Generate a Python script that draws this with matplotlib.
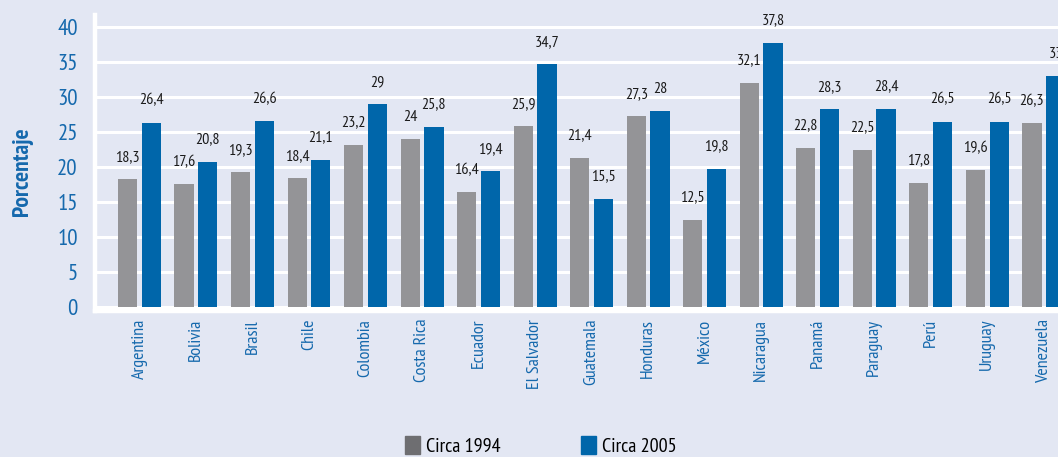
import numpy as np
import matplotlib.pyplot as plt
from matplotlib.patches import Patch

paises = ['Argentina', 'Bolivia', 'Brasil', 'Chile', 'Colombia', 'Costa Rica',
          'Ecuador', 'El Salvador', 'Guatemala', 'Honduras', 'México',
          'Nicaragua', 'Panamá', 'Paraguay', 'Perú', 'Uruguay', 'Venezuela']
circa_1994 = [18.3, 17.6, 19.3, 18.4, 23.2, 24, 16.4, 25.9, 21.4, 27.3,
              12.5, 32.1, 22.8, 22.5, 17.8, 19.6, 26.3]
circa_2005 = [26.4, 20.8, 26.6, 21.1, 29, 25.8, 19.4, 34.7, 15.5, 28,
              19.8, 37.8, 28.3, 28.4, 26.5, 26.5, 33]
yticks = [0, 5, 10, 15, 20, 25, 30, 35, 40]

bg = '#e3e7f3'
gris = '#949497'
azul = '#0066aa'
azul_txt = '#1569ad'

plt.rcParams['font.family'] = ['PT Sans Narrow', 'Open Sans Condensed', 'DejaVu Sans']

fig = plt.figure(figsize=(10.58, 4.57), dpi=100, facecolor=bg)
# axes extends past the right edge (the original is cropped)
ax = fig.add_axes([94.5 / 1058, 1 - 310.5 / 457, (1089 - 94.5) / 1058, (310.5 - 15) / 457])
ax.set_facecolor(bg)

x = np.arange(len(paises))
w = 0.34
b1 = ax.bar(x - 0.21, circa_1994, w, color=gris, zorder=3)
b2 = ax.bar(x + 0.21, circa_2005, w, color=azul, zorder=3)

def etiqueta(v):
    s = f'{v:.1f}'.replace('.', ',')
    return s[:-2] if s.endswith(',0') else s

for bars, vals in ((b1, circa_1994), (b2, circa_2005)):
    for r, v in zip(bars, vals):
        ax.annotate(etiqueta(v), (r.get_x() + r.get_width() / 2, v),
                    xytext=(0, 11), textcoords='offset points',
                    ha='center', va='bottom', fontsize=11.5, color='#1a1a1a',
                    annotation_clip=False)

ax.set_xlim(-0.795, 16.8)
ax.set_ylim(-0.46, 41.76)
ax.set_yticks(yticks)
ax.set_yticklabels([str(t) for t in yticks], fontsize=16.5, color=azul_txt)
ax.set_xticks(x)
ax.set_xticklabels(paises, rotation=90, fontsize=13, color=azul_txt)
ax.tick_params(axis='both', length=0)
ax.tick_params(axis='y', pad=12)
ax.tick_params(axis='x', pad=6)

ax.grid(axis='y', color='white', linewidth=2.2, zorder=1)
for s in ('top', 'right'):
    ax.spines[s].set_visible(False)
for s in ('left', 'bottom'):
    ax.spines[s].set_color('white')
    ax.spines[s].set_linewidth(3.2)

fig.text(22 / 1058, 1 - 172 / 457, 'Porcentaje', rotation=90, ha='center', va='center',
         fontsize=17, fontweight='bold', color=azul_txt)

handles = [Patch(color='#6e6e71', label='Circa 1994'), Patch(color=azul, label='Circa 2005')]
fig.legend(handles=handles, loc='center', bbox_to_anchor=(541 / 1058, 1 - 446 / 457),
           ncol=2, frameon=False, fontsize=14.5, handlelength=0.75, handleheight=1.0,
           handletextpad=0.3, columnspacing=4.0)

plt.savefig('out.png', dpi=100, facecolor=bg)
